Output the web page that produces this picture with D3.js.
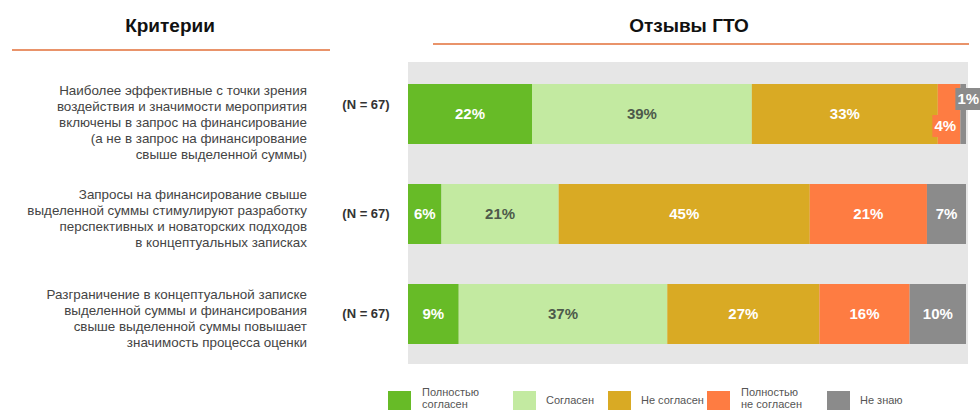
<!DOCTYPE html>
<html>
<head>
<meta charset="utf-8">
<script src="https://cdn.jsdelivr.net/npm/d3@7"></script>
<style>
  body { margin: 0; background: #fff; }
  svg { display: block; font-family: "Liberation Sans", Arial, sans-serif; }
</style>
</head>
<body>
<div class="container"></div>
<script>
// criteria text, one array of lines per row
var criteria = [
  ["Наиболее эффективные с точки зрения",
   "воздействия и значимости мероприятия",
   "включены в запрос на финансирование",
   "(а не в запрос на финансирование",
   "свыше выделенной суммы)"],
  ["Запросы на финансирование свыше",
   "выделенной суммы стимулируют разработку",
   "перспективных и новаторских подходов",
   "в концептуальных записках"],
  ["Разграничение в концептуальной записке",
   "выделенной суммы и финансирования",
   "свыше выделенной суммы повышает",
   "значимость процесса оценки"]
];
var nLabels = ["(N = 67)", "(N = 67)", "(N = 67)"];

var categories = ["Полностью согласен", "Согласен", "Не согласен", "Полностью не согласен", "Не знаю"];
var legendLines = [["Полностью", "согласен"], ["Согласен"], ["Не согласен"], ["Полностью", "не согласен"], ["Не знаю"]];

var fullyAgree    = [22, 6, 9];
var agree         = [39, 21, 37];
var disagree      = [33, 45, 27];
var fullyDisagree = [4, 21, 16];
var dontKnow      = [1, 7, 10];

const WIDTH = 980;
const HEIGHT = 412;

var colors = ["#67bb27", "#c3eaa1", "#d9aa24", "#fe7c42", "#8b8b8b"];
var labelColors = ["#fff", "#4d5a4b", "#fff", "#fff", "#fff"];

var series = [fullyAgree, agree, disagree, fullyDisagree, dontKnow];
var rows = criteria.map(function(c, i){
  var vals = series.map(function(s){ return s[i]; });
  var total = d3.sum(vals);
  var acc = 0;
  return vals.map(function(v, k){
    var seg = {row: i, k: k, value: v, x0: acc / total, x1: (acc + v) / total};
    acc += v;
    return seg;
  });
});

var svg = d3.select('.container').append('svg')
  .attr('width', WIDTH)
  .attr('height', HEIGHT);

var _xScale = d3.scaleLinear().domain([0, 1]).range([408, 966]);
var _yScale = d3.scaleBand().domain(d3.range(criteria.length))
  .range([64, 364]).paddingInner(0.4).paddingOuter(0.2);

// headers
svg.append('text').attr('x', 170).attr('y', 32).attr('text-anchor', 'middle')
  .attr('font-size', 19).attr('font-weight', 'bold').attr('fill', '#111').text('Критерии');
svg.append('text').attr('x', 689).attr('y', 32).attr('text-anchor', 'middle')
  .attr('font-size', 19).attr('font-weight', 'bold').attr('fill', '#111').text('Отзывы ГТО');
svg.append('line').attr('x1', 12).attr('x2', 330).attr('y1', 50).attr('y2', 50)
  .attr('stroke', '#e9936a').attr('stroke-width', 2);
svg.append('line').attr('x1', 433).attr('x2', 969).attr('y1', 44).attr('y2', 44)
  .attr('stroke', '#e9936a').attr('stroke-width', 2);

// grey panel
svg.append('rect').attr('x', 408).attr('y', 62).attr('width', 560).attr('height', 302)
  .attr('fill', '#e6e6e6');

// criteria text
var crit = svg.append('g').selectAll('text').data(criteria).enter().append('text')
  .attr('text-anchor', 'end').attr('font-size', 13.4).attr('fill', '#444')
  .attr('transform', function(d, i){
    var cy = _yScale(i) + _yScale.bandwidth() / 2 + (d.length === 5 ? 9 : 5);
    return "translate(307," + (cy - (d.length - 1) * 16 / 2) + ")";
  });
crit.selectAll('tspan').data(function(d){ return d; }).enter().append('tspan')
  .attr('x', 0).attr('dy', function(d, j){ return j === 0 ? 4 : 16; }).text(function(d){ return d; });

svg.append('g').selectAll('text').data(nLabels).enter().append('text')
  .attr('x', 366).attr('text-anchor', 'middle').attr('font-size', 13).attr('font-weight', 'bold')
  .attr('fill', '#333')
  .attr('y', function(d, i){ return _yScale(i) + _yScale.bandwidth() / 2 + (i === 0 ? -5 : 4); })
  .text(function(d){ return d; });

// bars
var segs = d3.merge(rows);
svg.append('g').selectAll('rect').data(segs).enter().append('rect')
  .attr('x', function(d){ return _xScale(d.x0); })
  .attr('width', function(d){ return _xScale(d.x1) - _xScale(d.x0); })
  .attr('y', function(d){ return _yScale(d.row); })
  .attr('height', _yScale.bandwidth())
  .attr('fill', function(d){ return colors[d.k]; });

// labels (tiny segments get a small coloured box offset up/down)
var lab = svg.append('g').selectAll('g').data(segs).enter().append('g')
  .attr('transform', function(d){
    var w = _xScale(d.x1) - _xScale(d.x0);
    var cx = (_xScale(d.x0) + _xScale(d.x1)) / 2;
    var cy = _yScale(d.row) + _yScale.bandwidth() / 2;
    if (w < 26) {
      if (d.value <= 1) { cx = _xScale(d.x0) + 8; cy -= 15; }
      else { cx = _xScale(d.x1) - 15; cy += 12; }
    }
    return translate(cx, cy);
  });
lab.filter(function(d){ return _xScale(d.x1) - _xScale(d.x0) < 26; })
  .append('rect').attr('x', -13).attr('y', -11).attr('width', 26).attr('height', 22)
  .attr('fill', function(d){ return colors[d.k]; });
lab.append('text').attr('text-anchor', 'middle').attr('dy', '0.36em')
  .attr('font-size', 15).attr('font-weight', 'bold')
  .attr('fill', function(d){ return labelColors[d.k]; })
  .text(function(d){ return d.value + '%'; });

// legend
var legendX = [388, 513, 608, 707, 827];
var leg = svg.append('g').selectAll('g').data(categories).enter().append('g')
  .attr('transform', function(d, i){ return translate(legendX[i], 391); });
leg.append('rect').attr('width', 23).attr('height', 19)
  .attr('fill', function(d, i){ return colors[i]; });
leg.append('text').attr('font-size', 11).attr('fill', '#555')
  .attr('transform', function(d, i){ return translate(legendLines[i].length > 1 ? 34 : 33, legendLines[i].length > 1 ? 5 : 13); })
  .selectAll('tspan').data(function(d, i){ return legendLines[i]; }).enter().append('tspan')
  .attr('x', 0).attr('dy', function(d, j){ return j === 0 ? 0 : 12; })
  .text(function(d){ return d; });

function translate(x, y){
  return "translate(" + x + "," + y + ")";
}
</script>
</body>
</html>
